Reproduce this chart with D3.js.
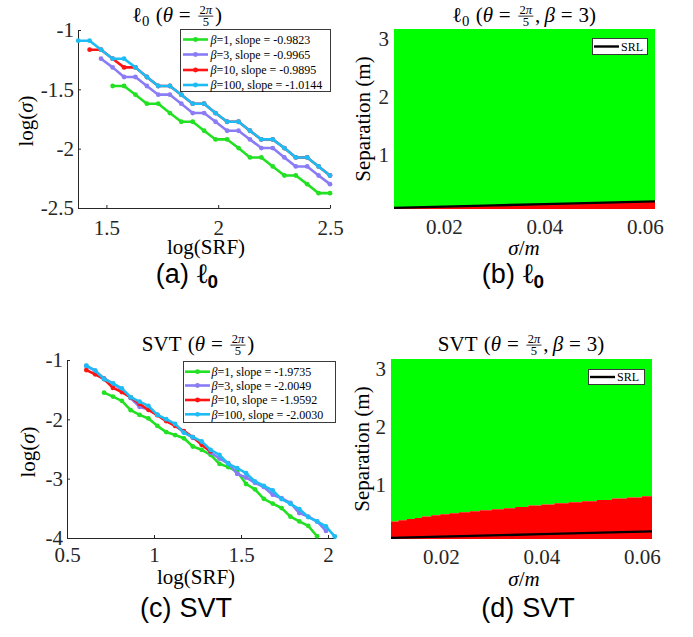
<!DOCTYPE html>
<html>
<head>
<meta charset="utf-8">
<title>l0 and SVT resolution curves</title>
<script src="https://cdn.jsdelivr.net/npm/d3@7/dist/d3.min.js"></script>
<style>
  html, body { margin: 0; padding: 0; background: #fff; }
  svg { display: block; }
</style>
</head>
<body>
<svg id="fig" width="693" height="637"></svg>
<script>
// ---------------- data ----------------
const betaValues = ["1", "3", "10", "100"];
const l0Slopes  = ["-0.9823", "-0.9965", "-0.9895", "-1.0144"];
const svtSlopes = ["-1.9735", "-2.0049", "-1.9592", "-2.0030"];
const seriesColors = ["#22e022", "#8a7cf5", "#ff1414", "#1ebcf5"];

// l0 solver: log10(SRF) grid and log10(sigma) per beta
const l0LogSRF  = [1.374, 1.425, 1.476, 1.528, 1.579, 1.630, 1.681, 1.732, 1.784, 1.835, 1.886, 1.937, 1.988, 2.040, 2.091, 2.142, 2.193, 2.244, 2.296, 2.347, 2.398, 2.449, 2.500];
const l0Beta1   = [null, null, null, -1.472, -1.472, -1.545, -1.621, -1.621, -1.700, -1.773, -1.773, -1.849, -1.922, -1.922, -1.995, -2.074, -2.074, -2.150, -2.226, -2.226, -2.299, -2.375, -2.375];
const l0Beta3   = [null, null, -1.242, -1.315, -1.396, -1.396, -1.472, -1.545, -1.545, -1.621, -1.700, -1.700, -1.773, -1.849, -1.849, -1.922, -1.995, -1.995, -2.074, -2.150, -2.150, -2.226, -2.299];
const l0Beta10  = [null, -1.166, -1.166, -1.242, -1.315, -1.315, -1.396, -1.472, -1.472, -1.545, -1.621, -1.621, -1.700, -1.773, -1.773, -1.849, -1.922, -1.922, -1.995, -2.074, -2.074, -2.150, -2.226];
const l0Beta100 = [-1.090, -1.090, -1.166, -1.242, -1.242, -1.315, -1.396, -1.472, -1.472, -1.545, -1.621, -1.621, -1.700, -1.773, -1.773, -1.849, -1.922, -1.922, -1.995, -2.074, -2.074, -2.150, -2.226];

// SVT solver
const svtLogSRF  = [0.611, 0.662, 0.713, 0.764, 0.815, 0.866, 0.917, 0.968, 1.019, 1.070, 1.121, 1.172, 1.223, 1.274, 1.325, 1.376, 1.427, 1.478, 1.529, 1.580, 1.631, 1.682, 1.733, 1.784, 1.835, 1.886, 1.937, 1.988, 2.039];
const svtBeta1   = [null, null, -1.550, -1.617, -1.688, -1.845, -1.925, -1.985, -2.110, -2.215, -2.265, -2.320, -2.458, -2.514, -2.598, -2.750, -2.806, -2.879, -3.090, -3.180, -3.340, -3.420, -3.495, -3.640, -3.720, -3.795, -3.970, null, null];
const svtBeta3   = [-1.100, -1.180, -1.310, -1.400, -1.500, -1.640, -1.790, -1.830, -1.920, -2.020, -2.100, -2.220, -2.310, -2.400, -2.560, -2.660, -2.740, -2.920, -2.980, -3.070, -3.140, -3.270, -3.330, -3.410, -3.580, -3.640, -3.720, -3.880, null];
const svtBeta10  = [-1.170, -1.240, -1.320, -1.470, -1.540, -1.630, -1.740, -1.840, -1.930, -2.030, -2.110, -2.200, -2.300, -2.430, -2.540, null, null, null, null, null, null, null, null, null, null, null, null, null, null];
const svtBeta100 = [-1.095, -1.179, -1.320, -1.393, -1.477, -1.628, -1.701, -1.774, -1.925, -1.998, -2.077, -2.223, -2.301, -2.374, -2.514, -2.598, -2.750, -2.822, -2.907, -3.047, -3.120, -3.199, -3.344, -3.423, -3.512, -3.647, -3.720, -3.805, -3.975];

// tick values
const l0XTicks  = [1.5, 2, 2.5];
const l0YTicks  = [-1, -1.5, -2, -2.5];
const svtXTicks = [0.5, 1, 1.5, 2];
const svtYTicks = [-1, -2, -3, -4];
const sigmaTicks = [0.02, 0.04, 0.06];
const sepTicks   = [1, 2, 3];

// success / failure maps: failure region (red) lies below the edge, success (green) above
const sigmaDomain = [0.0101, 0.062];
const sepDomain   = [0.07, 3.17];
const l0EdgeSigma  = [0.0101, 0.0150, 0.0200, 0.0250, 0.0300, 0.0350, 0.0400, 0.0450, 0.0500, 0.0550, 0.0600, 0.0620];
const l0EdgeSep    = [0.095, 0.105, 0.116, 0.127, 0.138, 0.149, 0.160, 0.171, 0.182, 0.193, 0.204, 0.204];
const svtEdgeSigma = [0.0101, 0.0116, 0.0132, 0.0148, 0.0162, 0.0181, 0.0199, 0.0217, 0.0236, 0.0258, 0.0278, 0.0302, 0.0325, 0.0348, 0.0374, 0.0400, 0.0426, 0.0454, 0.0481, 0.0510, 0.0540, 0.0570, 0.0600, 0.0620];
const svtEdgeSep   = [0.371, 0.393, 0.416, 0.433, 0.457, 0.479, 0.497, 0.514, 0.531, 0.548, 0.565, 0.583, 0.600, 0.622, 0.646, 0.663, 0.685, 0.703, 0.720, 0.742, 0.766, 0.783, 0.806, 0.806];
// super-resolution limit
const srlSigma = [0.0101, 0.020, 0.030, 0.040, 0.050, 0.060, 0.062];
const srlSep   = [0.090, 0.111, 0.133, 0.154, 0.176, 0.197, 0.201];

// ---------------- drawing ----------------
const SERIF = "'Liberation Serif','Times New Roman',Times,serif";
const SANS  = "'Liberation Sans',Arial,Helvetica,sans-serif";
const INK = "#262626";
const svg = d3.select("#fig");

// Lays out a run of text pieces (roman/italic/subscript/fraction) left to right.
function richText(parent, x, y, parts, o) {
  const size = o.size;
  const g = parent.append("g").attr("font-family", o.family || SERIF).attr("fill", o.fill || "#000");
  let cx = 0;
  for (const p of parts) {
    if (p.gap != null) { cx += p.gap * size; continue; }
    if (p.frac) {
      const fs = size * 0.6;
      const num = g.append("text").attr("font-size", fs).attr("text-anchor", "middle");
      p.frac[0].forEach(q => num.append("tspan").attr("font-style", q.it ? "italic" : "normal").text(q.t));
      const den = g.append("text").attr("font-size", fs).attr("text-anchor", "middle");
      p.frac[1].forEach(q => den.append("tspan").attr("font-style", q.it ? "italic" : "normal").text(q.t));
      const w = Math.max(num.node().getComputedTextLength(), den.node().getComputedTextLength()) + 0.12 * size;
      const x0 = cx + 0.08 * size, mid = x0 + w / 2;
      num.attr("x", mid).attr("y", -0.37 * size);
      den.attr("x", mid).attr("y", 0.17 * size);
      g.append("line").attr("x1", x0).attr("x2", x0 + w)
        .attr("y1", -0.28 * size).attr("y2", -0.28 * size)
        .attr("stroke", o.fill || "#000").attr("stroke-width", 0.8);
      cx = x0 + w + 0.08 * size;
      continue;
    }
    const fs = (p.sub ? 0.7 : 1) * size * (p.scale || 1);
    const el = g.append("text")
      .attr("x", cx).attr("y", p.sub ? 0.2 * size : 0)
      .attr("font-size", fs)
      .attr("font-style", p.it ? "italic" : "normal")
      .attr("font-weight", p.bold ? "bold" : "normal")
      .text(p.t);
    if (p.family) el.attr("font-family", p.family);
    cx += el.node().getComputedTextLength();
  }
  const anchor = o.anchor || "middle";
  const dx = anchor === "middle" ? -cx / 2 : anchor === "end" ? -cx : 0;
  g.attr("transform", `translate(${x},${y}) rotate(${o.rotate || 0}) translate(${dx},0)`);
  return g;
}

const fracTheta = { frac: [[{ t: "2" }, { t: "π", it: true }], [{ t: "5" }]] };
const thetaPart = [{ t: "(" }, { t: "θ", it: true }, { gap: 0.28 }, { t: "=" }, { gap: 0.28 }, fracTheta];
const ell0 = [{ t: "ℓ" }, { t: "0", sub: true }];

function styleAxis(sel, size) {
  sel.attr("font-family", SERIF).attr("font-size", size).attr("color", INK);
  sel.selectAll("line, path").attr("stroke", INK);
  sel.selectAll("text").attr("fill", INK);
}

function linePanel(o) {
  const x = d3.scaleLinear().domain(o.xDomain).range([o.left, o.right]);
  const y = d3.scaleLinear().domain(o.yDomain).range([o.bottom, o.top]);
  const g = svg.append("g");

  g.append("g").attr("transform", `translate(0,${o.bottom})`)
    .call(d3.axisBottom(x).tickValues(o.xTicks).tickFormat(String)
      .tickSizeInner(-3).tickSizeOuter(0).tickPadding(o.xPad))
    .call(s => styleAxis(s, 21));
  g.append("g").attr("transform", `translate(${o.left},0)`)
    .call(d3.axisLeft(y).tickValues(o.yTicks).tickFormat(String)
      .tickSizeInner(-3).tickSizeOuter(0).tickPadding(4))
    .call(s => styleAxis(s, 21));

  const line = d3.line().x(p => x(p[0])).y(p => y(p[1]));
  o.series.forEach((s, i) => {
    const pts = o.xs.map((v, k) => [v, s[k]]).filter(p => p[1] != null);
    g.append("path").attr("d", line(pts)).attr("fill", "none")
      .attr("stroke", seriesColors[i]).attr("stroke-width", 2.6)
      .attr("stroke-linejoin", "round").attr("stroke-linecap", "round");
    g.append("g").selectAll("circle").data(pts).join("circle")
      .attr("cx", p => x(p[0])).attr("cy", p => y(p[1])).attr("r", 2.4)
      .attr("fill", seriesColors[i]);
  });

  // legend
  const L = o.legend;
  g.append("rect").attr("x", L.x + 0.5).attr("y", L.y + 0.5).attr("width", L.w).attr("height", L.h)
    .attr("fill", "#fff").attr("stroke", "#3a3a3a").attr("stroke-width", 1);
  betaValues.forEach((b, i) => {
    const ry = L.rows[i];
    g.append("line").attr("x1", L.lx0).attr("x2", L.lx1).attr("y1", ry).attr("y2", ry)
      .attr("stroke", seriesColors[i]).attr("stroke-width", 2.6);
    g.append("circle").attr("cx", (L.lx0 + L.lx1) / 2).attr("cy", ry).attr("r", 2.4).attr("fill", seriesColors[i]);
    const t = g.append("text").attr("x", L.tx).attr("y", ry).attr("dy", "0.35em")
      .attr("font-family", SERIF).attr("font-size", 12).attr("fill", "#000");
    t.append("tspan").attr("font-style", "italic").text("β");
    t.append("tspan").text(`=${b}, slope = ${o.slopes[i]}`);
  });

  richText(g, o.title.x, o.title.y, o.title.parts, { size: 21 });
  richText(g, o.xLabel.x, o.xLabel.y, [{ t: "log(SRF)" }], { size: 21 });
  richText(g, o.yLabel.x, o.yLabel.y, [{ t: "log(" }, { t: "σ", it: true }, { t: ")" }], { size: 21, rotate: -90 });
}

function mapPanel(o) {
  const x = d3.scaleLinear().domain(sigmaDomain).range([o.left, o.right]);
  const y = d3.scaleLinear().domain(sepDomain).range([o.bottom, o.top]);
  const g = svg.append("g");
  const edge = o.edgeSigma.map((s, i) => [s, o.edgeSep[i]]);

  g.append("path").attr("fill", "#00ff00")
    .attr("d", d3.area().curve(d3.curveStepAfter).x(p => x(p[0]))
      .y0(y(sepDomain[1])).y1(p => y(p[1]))(edge));
  g.append("path").attr("fill", "#ff0000")
    .attr("d", d3.area().curve(d3.curveStepAfter).x(p => x(p[0]))
      .y0(y(sepDomain[0])).y1(p => y(p[1]))(edge));

  const srl = srlSigma.map((s, i) => [s, srlSep[i]]);
  g.append("path").attr("fill", "none").attr("stroke", "#000").attr("stroke-width", 2.4)
    .attr("d", d3.line().x(p => x(p[0])).y(p => y(p[1]))(srl));

  g.append("g").attr("transform", `translate(0,${o.bottom})`)
    .call(d3.axisBottom(x).tickValues(sigmaTicks).tickFormat(d => d.toFixed(2))
      .tickSize(0).tickPadding(o.xPad))
    .call(s => styleAxis(s, 21)).call(s => s.select(".domain").remove());
  g.append("g").attr("transform", `translate(${o.left},0)`)
    .call(d3.axisLeft(y).tickValues(sepTicks).tickFormat(String).tickSize(0).tickPadding(5))
    .call(s => styleAxis(s, 21)).call(s => s.select(".domain").remove());

  // legend
  const L = o.legend;
  g.append("rect").attr("x", L.x + 0.5).attr("y", L.y + 0.5).attr("width", L.w).attr("height", L.h)
    .attr("fill", "#fff").attr("stroke", "#3a3a3a").attr("stroke-width", 1);
  g.append("line").attr("x1", L.x + 2).attr("x2", L.x + 27).attr("y1", L.y + L.h / 2 + 0.5).attr("y2", L.y + L.h / 2 + 0.5)
    .attr("stroke", "#000").attr("stroke-width", 2.4);
  g.append("text").attr("x", L.x + 29).attr("y", L.y + L.h / 2 + 0.5).attr("dy", "0.35em")
    .attr("font-family", SERIF).attr("font-size", 12).text("SRL");

  richText(g, o.title.x, o.title.y, o.title.parts, { size: 21 });
  richText(g, o.xLabel.x, o.xLabel.y, [{ t: "σ", it: true }, { t: "/" }, { t: "m", it: true }], { size: 21 });
  richText(g, o.yLabel.x, o.yLabel.y, [{ t: "Separation (m)" }], { size: 21, rotate: -90 });
}

// (a) l0, resolution curves
linePanel({
  left: 78, right: 330, top: 30, bottom: 208, xPad: 12,
  xDomain: [1.373, 2.5], yDomain: [-2.5, -1], xTicks: l0XTicks, yTicks: l0YTicks,
  xs: l0LogSRF, series: [l0Beta1, l0Beta3, l0Beta10, l0Beta100], slopes: l0Slopes,
  legend: { x: 180, y: 29, w: 150, h: 62, rows: [39.5, 54.5, 70, 85], lx0: 183, lx1: 208, tx: 210.5 },
  title: { x: 177, y: 22, parts: [...ell0, { gap: 0.3 }, ...thetaPart, { t: ")" }] },
  xLabel: { x: 206, y: 254 }, yLabel: { x: 33, y: 121 }
});

// (b) l0, success map
mapPanel({
  left: 394, right: 655, top: 29, bottom: 209, xPad: 10,
  edgeSigma: l0EdgeSigma, edgeSep: l0EdgeSep,
  legend: { x: 592, y: 38, w: 55, h: 16 },
  title: { x: 524, y: 22, parts: [...ell0, { gap: 0.3 }, ...thetaPart, { t: "," }, { gap: 0.2 }, { t: "β", it: true }, { gap: 0.28 }, { t: "=" }, { gap: 0.28 }, { t: "3" }, { t: ")" }] },
  xLabel: { x: 524, y: 255 }, yLabel: { x: 370, y: 119 }
});

// (c) SVT, resolution curves
linePanel({
  left: 67, right: 335, top: 360, bottom: 538, xPad: 9,
  xDomain: [0.5, 2.04], yDomain: [-4, -1], xTicks: svtXTicks, yTicks: svtYTicks,
  xs: svtLogSRF, series: [svtBeta1, svtBeta3, svtBeta10, svtBeta100], slopes: svtSlopes,
  legend: { x: 183, y: 361, w: 152, h: 61, rows: [371.7, 385.5, 400, 414.3], lx0: 185, lx1: 210, tx: 211.5 },
  title: { x: 198, y: 351, parts: [{ t: "SVT" }, { gap: 0.3 }, ...thetaPart, { t: ")" }] },
  xLabel: { x: 196, y: 584 }, yLabel: { x: 35, y: 452 }
});

// (d) SVT, success map
mapPanel({
  left: 391, right: 652, top: 359, bottom: 539, xPad: 10,
  edgeSigma: svtEdgeSigma, edgeSep: svtEdgeSep,
  legend: { x: 588, y: 369, w: 56, h: 15 },
  title: { x: 521, y: 351, parts: [{ t: "SVT" }, { gap: 0.3 }, ...thetaPart, { t: "," }, { gap: 0.2 }, { t: "β", it: true }, { gap: 0.28 }, { t: "=" }, { gap: 0.28 }, { t: "3" }, { t: ")" }] },
  xLabel: { x: 524, y: 586 }, yLabel: { x: 369, y: 449 }
});

// sub-figure captions
const capEll = [{ t: "ℓ", bold: true, family: SERIF, scale: 1.05 }, { t: "0", sub: true, bold: true }];
richText(svg, 187, 283, [{ t: "(a)" }, { gap: 0.3 }, ...capEll], { size: 27, family: SANS });
richText(svg, 513, 283, [{ t: "(b)" }, { gap: 0.3 }, ...capEll], { size: 27, family: SANS });
richText(svg, 186, 617, [{ t: "(c)" }, { gap: 0.3 }, { t: "SVT" }], { size: 27, family: SANS });
richText(svg, 528, 617, [{ t: "(d)" }, { gap: 0.3 }, { t: "SVT" }], { size: 27, family: SANS });
</script>
</body>
</html>
